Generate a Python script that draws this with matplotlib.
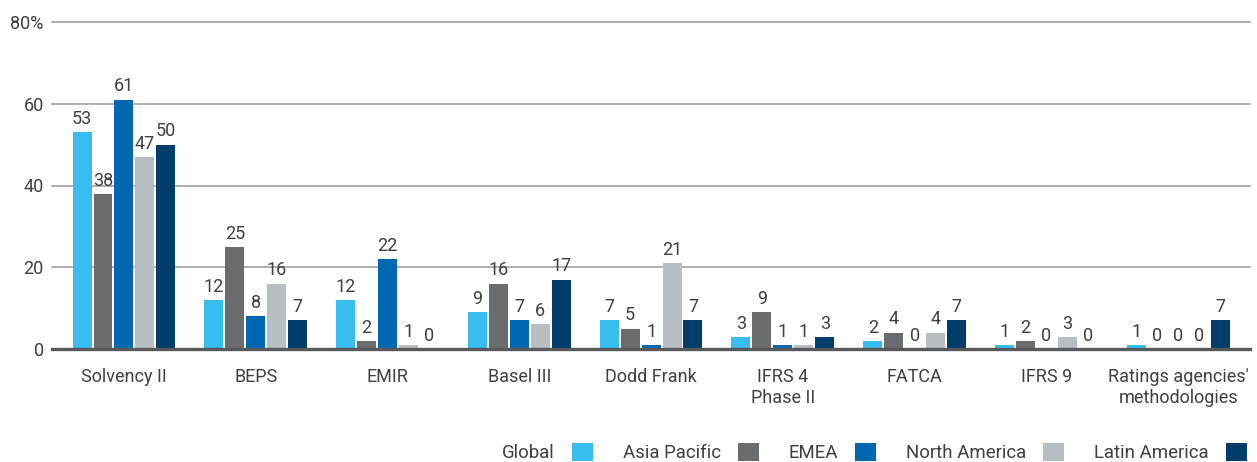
import matplotlib
matplotlib.use("Agg")
import matplotlib.pyplot as plt
import numpy as np

categories = ["Solvency II", "BEPS", "EMIR", "Basel III", "Dodd Frank",
              "IFRS 4\nPhase II", "FATCA", "IFRS 9",
              "Ratings agencies'\nmethodologies"]
series_names = ["Global", "Asia Pacific", "EMEA", "North America", "Latin America"]
global_vals = [53, 12, 12, 9, 7, 3, 2, 1, 1]
asia_pacific = [38, 25, 2, 16, 5, 9, 4, 2, 0]
emea = [61, 8, 22, 7, 1, 1, 0, 0, 0]
north_america = [47, 16, 1, 6, 21, 1, 4, 3, 0]
latin_america = [50, 7, 0, 17, 7, 3, 7, 0, 7]
y_ticks = [0, 20, 40, 60, 80]
y_tick_labels = ["0", "20", "40", "60", "80%"]

colors = ["#37BDEF", "#6A6D70", "#0068B3", "#B7BEC4", "#003D6B"]
text_color = "#404040"

plt.rcParams["font.family"] = ["Roboto", "DejaVu Sans"]

fig = plt.figure(figsize=(12.57, 4.62), dpi=100)
ax = fig.add_axes([52 / 1257, 1 - 349 / 462, (1250 - 52) / 1257, (349 - 22) / 462])

data = [global_vals, asia_pacific, emea, north_america, latin_america]
x = np.arange(len(categories))
step = 0.159
width = 0.144
containers = []
for j, (vals, name, c) in enumerate(zip(data, series_names, colors)):
    bars = ax.bar(x + (j - 2) * step, vals, width=width, color=c, label=name, zorder=3)
    containers.append(bars)
    ax.bar_label(bars, labels=[str(v) for v in vals], padding=3,
                 fontsize=13, color=text_color, zorder=4)

ax.set_xlim(-0.546, 8.545)
ax.set_ylim(0, 80)
ax.set_yticks(y_ticks)
ax.set_yticklabels(y_tick_labels)
ax.set_xticks(x)
ax.set_xticklabels(categories)

for v in y_ticks[1:]:
    ax.axhline(v, color="#9a9a9a", linewidth=1.1, zorder=1, clip_on=False)
ax.axhline(0, color="#58595b", linewidth=2.4, zorder=5, clip_on=False)

for s in ax.spines.values():
    s.set_visible(False)
ax.tick_params(axis="both", length=0, labelsize=13, colors=text_color)
ax.tick_params(axis="x", pad=14)
ax.tick_params(axis="y", pad=6)

legend_fs = 13.4
fontsize_px = legend_fs * 100 / 72
leg = fig.legend(handles=containers, labels=series_names, ncol=5,
                 loc="lower right", bbox_to_anchor=(1247 / 1257, 0.0),
                 frameon=False, markerfirst=False, fontsize=legend_fs,
                 handlelength=21 / fontsize_px, handleheight=1.1,
                 handletextpad=17 / fontsize_px, columnspacing=30 / fontsize_px,
                 borderpad=0.0, borderaxespad=0.0, labelcolor=text_color)

fig.savefig("out.png", dpi=100)
